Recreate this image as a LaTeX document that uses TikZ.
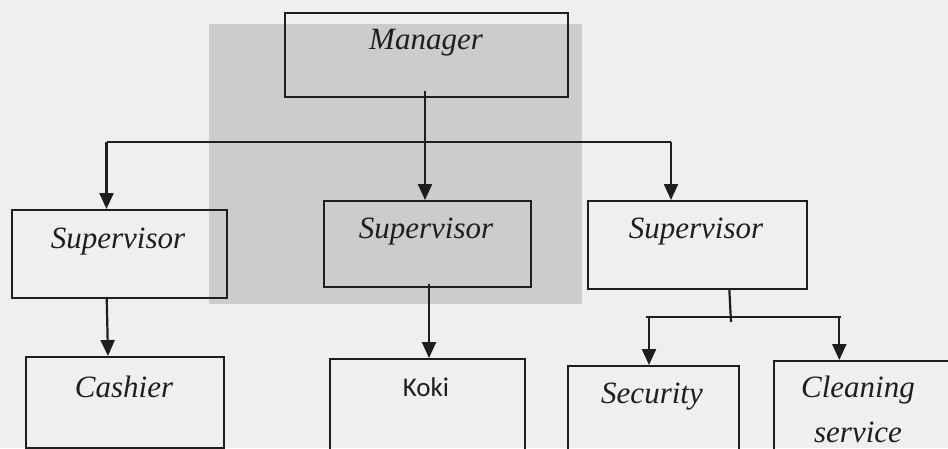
\documentclass[tikz,border=0pt]{standalone}
\usepackage{fontspec}
\setmainfont{Liberation Serif}
\newfontfamily\kokifont{Carlito}
\usetikzlibrary{arrows.meta}
\definecolor{bgc}{HTML}{EFEFEF}
\definecolor{shadegray}{HTML}{CCCCCC}
\definecolor{ink}{HTML}{1E1E1E}
\begin{document}
\begin{tikzpicture}[x=1pt,y=-1pt,
  box/.style={draw=ink,line width=2.2pt,anchor=north west,inner sep=0pt},
  lbl/.style={font=\fontsize{31}{36}\selectfont\itshape,text=ink,inner sep=0pt},
  conn/.style={draw=ink,line width=2.2pt},
  arr/.style={conn,-{Triangle[length=16pt,width=14pt]}}]
\useasboundingbox (0,0) rectangle (948,448);
\clip (0,0) rectangle (948,448);
\fill[bgc] (0,0) rectangle (948,448);
\fill[shadegray] (209,24) rectangle (582,304);
% boxes
\node[box,minimum width=283pt,minimum height=84pt] (mgr) at (284,12) {};
\node[box,minimum width=215pt,minimum height=88pt] (s1) at (11,209) {};
\node[box,minimum width=207pt,minimum height=86pt] (s2) at (323,200) {};
\node[box,minimum width=219pt,minimum height=88pt] (s3) at (587,200) {};
\node[box,minimum width=198pt,minimum height=91pt] (cash) at (25,356) {};
\node[box,minimum width=195pt,minimum height=120pt] (koki) at (329,358) {};
\node[box,minimum width=171pt,minimum height=120pt] (sec) at (567,365) {};
\node[box,minimum width=220pt,minimum height=120pt] (clean) at (773,360) {};
% labels
\node[lbl] (mgrt) at (426,43) {Manager};
\node[lbl] (s1t) at (118,242) {Supervisor};
\node[lbl] (s2t) at (426,232) {Supervisor};
\node[lbl] (s3t) at (696,232) {Supervisor};
\node[lbl] (casht) at (124,387) {Cashier};
\node[font=\fontsize{27}{32}\selectfont\kokifont,text=ink,inner sep=0pt] (kokit) at (426,387) {Koki};
\node[lbl] (sect) at (652,397) {Security};
\node[lbl] (cleant) at (858,390) {Cleaning};
\node[lbl] (servt) at (858,432) {service};
% connectors
\coordinate (m0) at (425,91);
\coordinate (j1) at (106.5,142);
\coordinate (j3) at (671,142);
\draw[conn] (j1) -- (j3);
\draw[arr] (m0) -- (m0 |- s2.north);
\draw[arr] (j1) -- (j1 |- s1.north);
\draw[arr] (j3) -- (j3 |- s3.north);
\coordinate (c0) at (106.7,297);
\coordinate (c1) at (108,356);
\draw[arr] (c0) -- (c1);
\coordinate (k0) at (429,284);
\draw[arr] (k0) -- (k0 |- koki.north);
\coordinate (r0) at (729.3,289);
\coordinate (r1) at (731,322);
\draw[conn] (r0) -- (r1);
\coordinate (h1) at (645.7,317);
\coordinate (h2) at (840.7,317);
\draw[conn] (h1) -- (h2);
\coordinate (a1) at (649,317);
\coordinate (a2) at (839.3,317);
\draw[arr] (a1) -- (a1 |- sec.north);
\draw[arr] (a2) -- (a2 |- clean.north);
\end{tikzpicture}
\end{document}
